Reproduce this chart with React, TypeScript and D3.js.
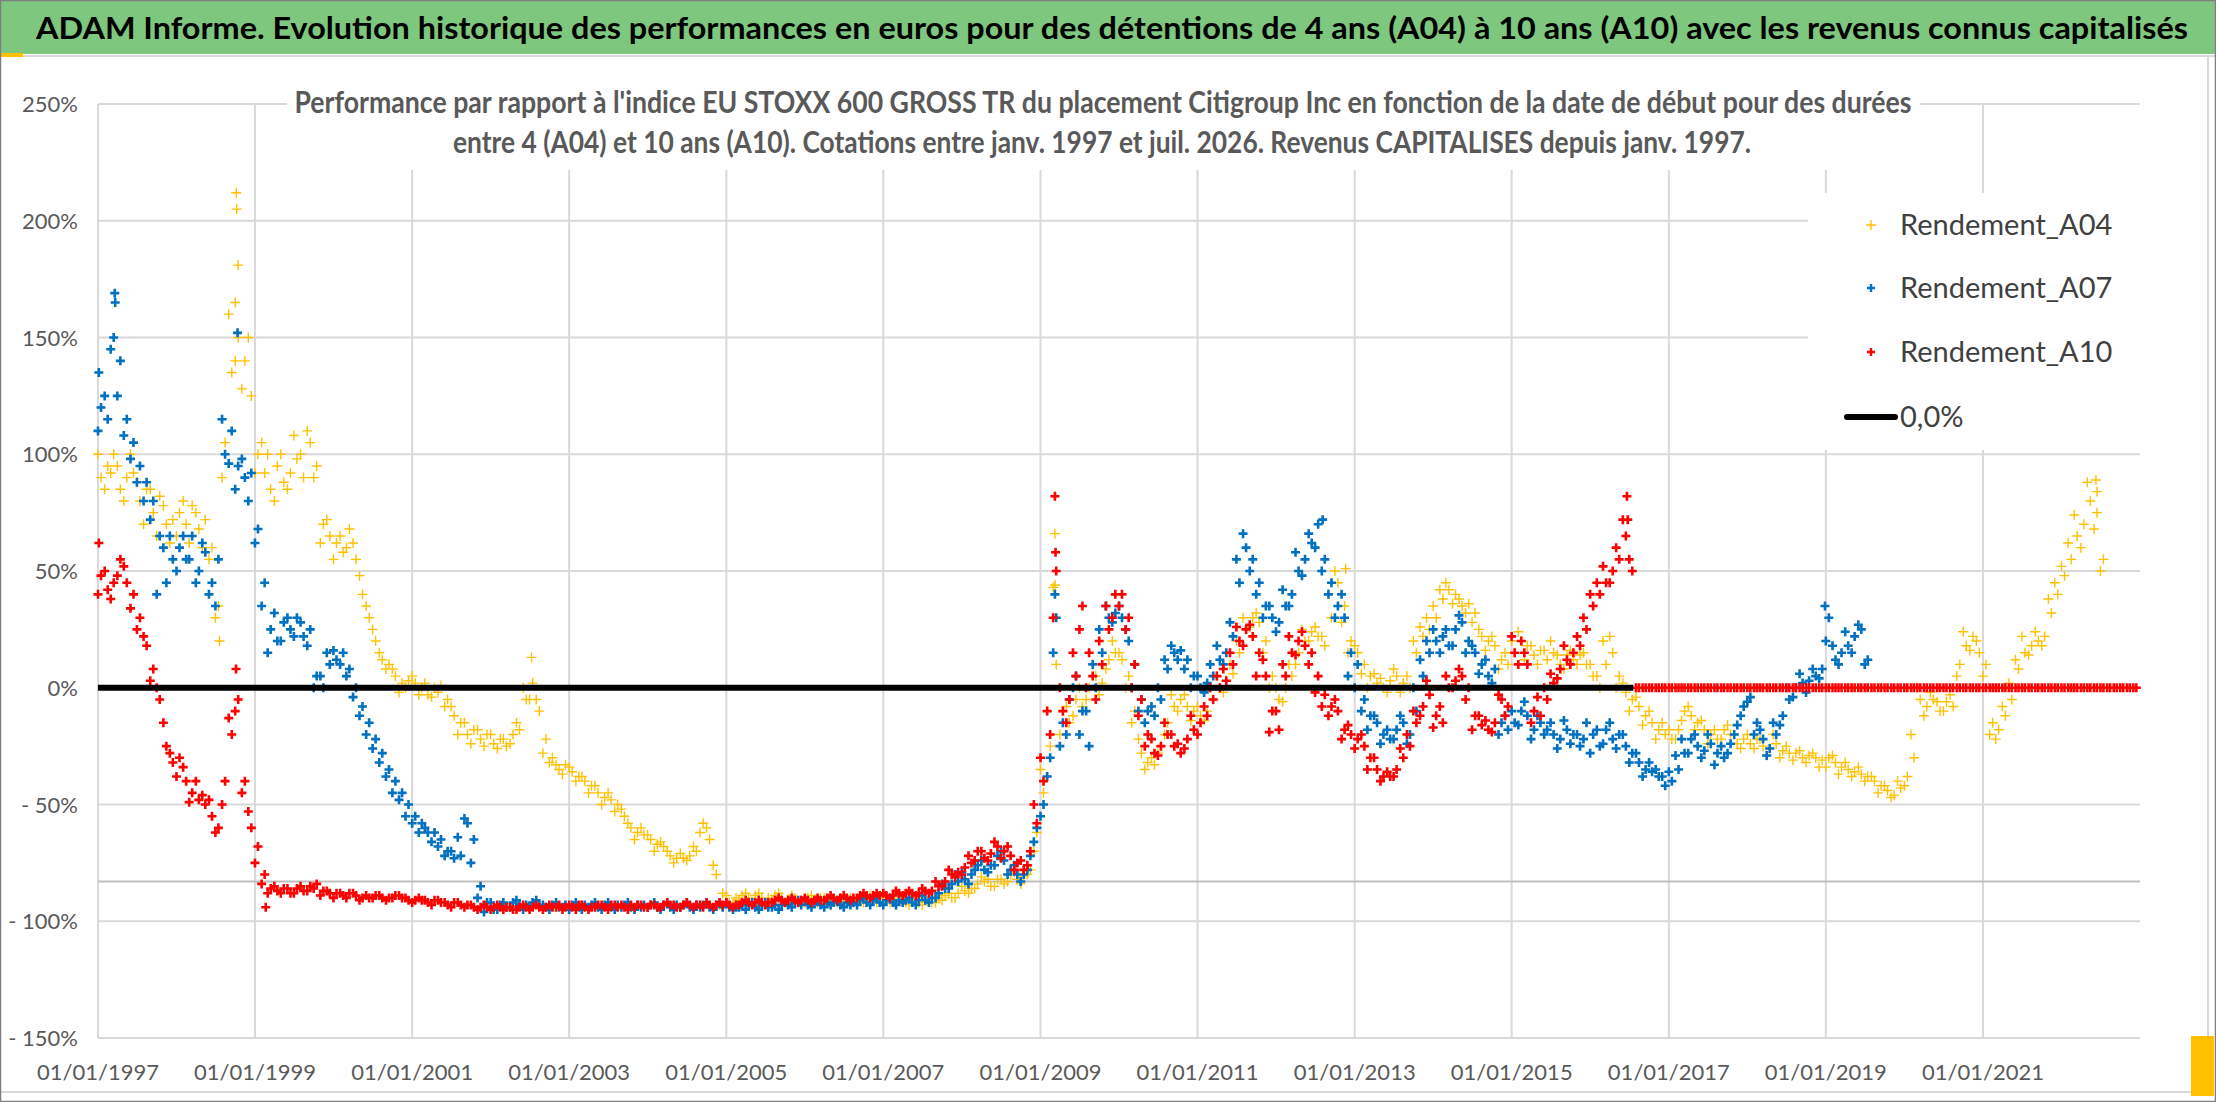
import React from "react";
import * as d3 from "d3";

// ---- data (percent). Two readings per month: one near the 1st, one mid-month ----
const SERIES_START = "1997-01";

// Rendement_A04 : Jan 1997 -> Jul 2022, mid-month readings
const A04: number[] = [
  90, 95, 100, 85, 90, 92, 80, 85, 75, 82, 70, 72, // 1997
  75, 70, 78, 68, 72, 60, 35, 105, 135, 150, 140, 125, // 1998
  100, 92, 85, 95, 88, 92, 98, 90, 105, 95, 70, 65, // 1999
  62, 58, 68, 55, 40, 30, 20, 12, 10, 5, 2, 3, // 2000
  2, 0, -3, 0, 1, -5, -12, -15, -20, -18, -22, -20, // 2001
  -24, -22, -25, -20, -18, -5, 2, -10, -22, -30, -35, -33, // 2002
  -36, -38, -40, -42, -45, -47, -48, -50, -55, -60, -62, -63, // 2003
  -65, -67, -68, -72, -73, -73, -72, -70, -58, -65, -80, -88, // 2004
  -92, -90, -89, -90, -89, -90, -90, -89, -90, -91, -90, -91, // 2005
  -90, -91, -90, -92, -91, -90, -91, -92, -91, -90, -91, -90, // 2006
  -91, -90, -91, -92, -91, -92, -91, -92, -90, -89, -90, -88, // 2007
  -87, -86, -84, -83, -85, -82, -84, -80, -82, -81, -78, -62, // 2008
  -45, -25, 10, -10, -15, -5, -8, 0, 5, 2, 12, 15, // 2009
  12, 5, -10, -28, -32, -33, -25, -15, -8, -5, -8, -10, // 2010
  -12, -10, -5, 0, 3, 6, 15, 25, 30, 28, 20, 5, // 2011
  -5, 0, 5, 15, 20, 24, 22, 18, 30, 45, 35, 20, // 2012
  15, 10, 5, 2, 0, 3, 5, 2, 0, 15, 22, 25, // 2013
  30, 38, 42, 40, 35, 36, 32, 22, 20, 18, 12, 10, // 2014
  15, 20, 18, 14, 16, 12, 15, 10, 14, 12, 14, 10, // 2015
  5, 0, 10, 15, 5, -2, -5, -8, -12, -15, -18, -20, // 2016
  -22, -18, -10, -12, -15, -18, -20, -22, -18, -20, -24, -22, // 2017
  -24, -22, -25, -26, -24, -27, -28, -28, -30, -29, -30, -31, // 2018
  -30, -32, -34, -35, -36, -37, -38, -40, -42, -44, -46, -43, // 2019
  -38, -30, -5, -8, -5, -10, -6, -8, 10, 18, 22, 15, // 2020
  10, -15, -18, -12, -5, 8, 15, 18, 20, 22, 32, 40, // 2021
  48, 55, 65, 70, 80, 75, 55, // 2022
];
// Rendement_A04 : start-of-month readings
const A04_B: number[] = [
  100, 85, 92, 95, 80, 100, 88, 70, 85, 65, 78, 62, // 1997
  65, 80, 62, 75, 60, 55, 30, 90, 160, 140, 128, 150, // 1998
  92, 105, 100, 80, 100, 85, 108, 100, 110, 90, 62, 72, // 1999
  55, 65, 60, 62, 48, 35, 25, 15, 8, 8, -2, 0, // 2000
  5, -3, 2, -4, -2, -8, -8, -20, -15, -24, -18, -25, // 2001
  -20, -26, -22, -24, -15, 0, -5, -5, -28, -32, -33, -37, // 2002
  -34, -40, -38, -45, -42, -50, -45, -53, -52, -58, -65, -60, // 2003
  -63, -70, -66, -70, -75, -71, -74, -68, -62, -60, -76, -93, // 2004
  -89, -92, -91, -88, -92, -88, -92, -91, -88, -92, -89, -92, // 2005
  -92, -89, -92, -90, -93, -92, -89, -90, -93, -92, -89, -92, // 2006
  -89, -92, -93, -90, -93, -90, -93, -90, -92, -91, -88, -90, // 2007
  -85, -88, -86, -81, -82, -85, -82, -83, -79, -84, -80, -70, // 2008
  -35, -10, 43, -20, -8, -12, 0, -5, 10, -3, 8, 20, // 2009
  15, 0, -15, -22, -35, -30, -28, -20, -3, -10, -3, -14, // 2010
  -8, -14, 0, 5, -2, 10, 20, 30, 26, 32, 15, 0, // 2011
  0, -6, 10, 10, 25, 20, 26, 22, 40, 50, 28, 15, // 2012
  18, 6, 0, 6, 4, -2, 8, -2, 5, 20, 26, 30, // 2013
  35, 42, 45, 36, 38, 32, 28, 25, 16, 22, 8, 15, // 2014
  20, 24, 12, 18, 10, 16, 20, 14, 8, 16, 10, 15, // 2015
  10, 5, 20, 22, 0, 2, -10, -4, -16, -10, -22, -15, // 2016
  -18, -22, -14, -8, -18, -14, -24, -18, -22, -16, -20, -26, // 2017
  -20, -26, -22, -29, -20, -30, -25, -31, -27, -32, -28, -34, // 2018
  -34, -29, -37, -32, -38, -34, -40, -38, -45, -42, -47, -40, // 2019
  -42, -20, 0, -12, -2, -6, -10, -3, 5, 24, 16, 20, // 2020
  5, -20, -22, -8, 2, 12, 22, 14, 24, 18, 38, 45, // 2021
  52, 62, 74, 60, 88, 68, 50, // 2022
];

// Rendement_A07 : Jan 1997 -> Jul 2019, mid-month readings
const A07: number[] = [
  120, 115, 150, 140, 115, 105, 95, 88, 80, 65, 45, 55, // 1997
  60, 55, 65, 50, 58, 45, 55, 100, 110, 95, 90, 92, // 1998
  68, 45, 25, 20, 28, 25, 30, 22, 25, 5, 0, 10, // 1999
  12, 15, 8, 0, -8, -15, -22, -28, -35, -40, -45, -50, // 2000
  -55, -58, -62, -62, -65, -70, -73, -72, -58, -65, -85, -92, // 2001
  -95, -93, -94, -92, -93, -93, -92, -93, -94, -93, -94, -93, // 2002
  -93, -94, -93, -93, -94, -93, -94, -93, -93, -94, -93, -93, // 2003
  -93, -94, -93, -94, -93, -93, -94, -93, -93, -94, -93, -94, // 2004
  -94, -94, -93, -93, -94, -93, -94, -93, -93, -93, -92, -93, // 2005
  -93, -92, -93, -92, -92, -93, -92, -92, -91, -92, -91, -92, // 2006
  -91, -92, -91, -91, -92, -91, -91, -90, -88, -86, -84, -83, // 2007
  -82, -80, -76, -78, -76, -72, -74, -78, -80, -80, -72, -60, // 2008
  -50, -30, 30, -15, -5, 5, -10, -25, 0, 15, 30, 32, // 2009
  30, 20, 10, -5, -10, -12, -5, 8, 15, 16, 12, 5, // 2010
  0, 2, 5, 12, 15, 22, 45, 60, 55, 45, 35, 30, // 2011
  28, 35, 40, 50, 55, 62, 70, 55, 45, 35, 30, 15, // 2012
  10, -5, -12, -15, -20, -22, -18, -15, -20, -10, 5, 15, // 2013
  20, 22, 18, 25, 28, 20, 15, 10, 5, 8, -15, -18, // 2014
  -15, -10, -12, -18, -15, -18, -20, -22, -18, -20, -25, -15, // 2015
  -20, -25, -18, -22, -20, -25, -28, -32, -35, -36, -38, -42, // 2016
  -40, -35, -28, -22, -25, -27, -24, -28, -30, -24, -16, -8, // 2017
  -4, -15, -22, -26, -20, -12, -5, 0, 2, 3, 5, 8, // 2018
  30, 12, 15, 18, 22, 25, 12, // 2019
];
// Rendement_A07 : start-of-month readings
const A07_B: number[] = [
  110, 125, 145, 125, 108, 98, 88, 80, 72, 40, 60, 65, // 1997
  50, 65, 55, 45, 62, 40, 35, 115, 96, 85, 98, 80, // 1998
  62, 35, 15, 32, 20, 30, 22, 28, 18, 0, 5, 15, // 1999
  16, 10, 5, -4, -12, -20, -26, -32, -38, -45, -48, -55, // 2000
  -58, -62, -60, -66, -68, -72, -70, -64, -56, -75, -90, -96, // 2001
  -92, -95, -92, -94, -91, -95, -94, -91, -93, -95, -92, -94, // 2002
  -95, -92, -95, -94, -92, -95, -92, -95, -94, -92, -95, -94, // 2003
  -94, -92, -95, -92, -95, -94, -92, -95, -94, -92, -95, -92, // 2004
  -92, -95, -94, -95, -92, -95, -92, -94, -95, -92, -94, -91, // 2005
  -91, -94, -91, -94, -93, -91, -94, -93, -93, -90, -93, -90, // 2006
  -93, -90, -93, -92, -90, -93, -89, -92, -90, -84, -86, -80, // 2007
  -79, -84, -78, -74, -79, -76, -70, -80, -76, -83, -78, -66, // 2008
  -55, -38, 15, -25, -20, 0, -20, -10, 10, 25, 35, 28, // 2009
  35, 25, 0, -10, -15, -8, 0, 12, 18, 12, 8, 0, // 2010
  5, -2, 10, 18, 10, 28, 55, 66, 50, 40, 30, 35, // 2011
  24, 42, 35, 58, 48, 66, 60, 50, 40, 30, 40, 5, // 2012
  0, -10, -18, -12, -24, -18, -22, -12, -24, 0, 12, 20, // 2013
  25, 15, 25, 18, 31, 15, 18, 6, 12, 2, -20, -12, // 2014
  -10, -16, -6, -22, -12, -20, -15, -26, -14, -24, -20, -22, // 2015
  -28, -18, -24, -15, -26, -20, -32, -28, -38, -32, -35, -38, // 2016
  -36, -29, -22, -28, -20, -30, -20, -33, -25, -28, -20, -12, // 2017
  -6, -20, -18, -29, -15, -16, 0, -4, 6, -2, 8, 4, // 2018
  20, 18, 10, 24, 15, 27, 10, // 2019
];

// Rendement_A10 : Jan 1997 -> Dec 2022 (flat 0 once the 10-year window runs out), mid-month
const A10: number[] = [
  48, 42, 45, 55, 45, 40, 30, 18, 8, -5, -25, -32, // 1997
  -30, -40, -45, -48, -50, -55, -60, -40, -20, -5, -40, -60, // 1998
  -68, -80, -86, -87, -86, -88, -86, -87, -85, -84, -87, -88, // 1999
  -88, -89, -88, -89, -90, -90, -89, -90, -90, -89, -90, -91, // 2000
  -91, -91, -92, -91, -92, -93, -92, -93, -93, -94, -94, -94, // 2001
  -94, -94, -94, -95, -94, -94, -94, -94, -94, -94, -93, -94, // 2002
  -94, -93, -94, -94, -93, -94, -93, -94, -94, -93, -93, -94, // 2003
  -93, -94, -93, -93, -94, -93, -93, -93, -94, -93, -93, -93, // 2004
  -93, -93, -92, -92, -92, -92, -92, -91, -91, -91, -91, -91, // 2005
  -91, -91, -91, -90, -90, -90, -90, -90, -89, -89, -89, -89, // 2006
  -89, -89, -88, -88, -88, -88, -87, -87, -85, -83, -80, -79, // 2007
  -77, -75, -70, -73, -71, -68, -70, -72, -75, -78, -70, -58, // 2008
  -40, -20, 50, -10, -5, 5, 35, 15, -5, 10, 25, 40, // 2009
  40, 30, 10, -5, -20, -28, -25, -20, -25, -28, -22, -18, // 2010
  -15, -12, -5, 0, 3, 10, 20, 25, 22, 15, 5, -10, // 2011
  -18, 5, 15, 20, 18, 15, 5, -3, -8, -10, -18, -20, // 2012
  -22, -25, -30, -35, -38, -38, -35, -30, -25, -15, -8, -3, // 2013
  -12, -15, 0, 3, 5, 0, -12, -16, -18, -15, -5, -8, // 2014
  15, 20, 10, -10, -12, -5, 2, 8, 12, 15, 18, 25, // 2015
  35, 40, 45, 50, 55, 65, 50, 0, 0, 0, 0, 0, // 2016
  0, 0, 0, 0, 0, 0, 0, 0, 0, 0, 0, 0, // 2017
  0, 0, 0, 0, 0, 0, 0, 0, 0, 0, 0, 0, // 2018
  0, 0, 0, 0, 0, 0, 0, 0, 0, 0, 0, 0, // 2019
  0, 0, 0, 0, 0, 0, 0, 0, 0, 0, 0, 0, // 2020
  0, 0, 0, 0, 0, 0, 0, 0, 0, 0, 0, 0, // 2021
  0, 0, 0, 0, 0, 0, 0, 0, 0, 0, 0, 0, // 2022
];
// Rendement_A10 : start-of-month readings
const A10_B: number[] = [
  40, 50, 38, 48, 52, 34, 25, 22, 3, 0, -15, -28, // 1997
  -38, -34, -49, -40, -46, -48, -62, -50, -13, -10, -45, -53, // 1998
  -75, -84, -88, -85, -88, -86, -88, -85, -87, -86, -89, -87, // 1999
  -90, -88, -90, -88, -91, -89, -90, -89, -91, -90, -89, -90, // 2000
  -92, -90, -91, -93, -91, -92, -94, -92, -94, -93, -95, -93, // 2001
  -95, -93, -95, -94, -95, -93, -95, -93, -95, -93, -94, -95, // 2002
  -93, -95, -93, -95, -94, -93, -95, -93, -93, -95, -94, -93, // 2003
  -94, -93, -94, -92, -93, -94, -92, -94, -93, -92, -94, -92, // 2004
  -92, -94, -93, -91, -93, -91, -93, -92, -90, -92, -90, -92, // 2005
  -90, -92, -90, -91, -89, -91, -89, -91, -90, -88, -90, -88, // 2006
  -88, -90, -87, -89, -87, -89, -86, -88, -83, -85, -78, -81, // 2007
  -80, -72, -74, -70, -74, -66, -73, -68, -78, -74, -76, -50, // 2008
  -30, -10, 30, 0, -15, 15, 25, 0, 5, 20, 35, 30, // 2009
  35, 25, 0, -12, -25, -22, -29, -15, -20, -24, -26, -12, // 2010
  -20, -8, 0, 5, 8, 15, 26, 18, 27, 5, 12, -19, // 2011
  -10, 10, 22, 14, 24, 10, -2, -8, -12, -5, -22, -16, // 2012
  -26, -20, -35, -30, -40, -36, -38, -26, -20, -10, -12, 3, // 2013
  -17, -8, 5, 0, 8, -5, -18, -12, -14, -19, -3, -12, // 2014
  22, 10, 15, -15, -4, 0, 6, 4, 18, 10, 22, 30, // 2015
  40, 45, 52, 45, 60, 72, 55, 0, 0, 0, 0, 0, // 2016
  0, 0, 0, 0, 0, 0, 0, 0, 0, 0, 0, 0, // 2017
  0, 0, 0, 0, 0, 0, 0, 0, 0, 0, 0, 0, // 2018
  0, 0, 0, 0, 0, 0, 0, 0, 0, 0, 0, 0, // 2019
  0, 0, 0, 0, 0, 0, 0, 0, 0, 0, 0, 0, // 2020
  0, 0, 0, 0, 0, 0, 0, 0, 0, 0, 0, 0, // 2021
  0, 0, 0, 0, 0, 0, 0, 0, 0, 0, 0, 0, // 2022
];

// isolated readings that stand out of the clouds
const A04_EXTRA: [string, number][] = [
  ["1998-10-06", 212], ["1998-10-08", 205], ["1998-10-14", 181], ["1998-10-01", 165],
  ["1998-07-20", 20], ["2002-07-10", 13], ["2009-03-09", 66], ["2009-03-10", 44],
  ["2012-11-20", 51], ["2022-06-10", 89], ["2022-06-15", 84],
];
const A07_EXTRA: [string, number][] = [
  ["1997-01-05", 135], ["1997-03-20", 169], ["1997-03-22", 165], ["1998-10-12", 152],
  ["2009-03-09", 40], ["2012-08-05", 72], ["2018-12-28", 35],
];
const A10_EXTRA: [string, number][] = [
  ["1997-01-05", 62], ["1998-10-05", 8], ["1999-02-20", -94], ["2009-03-09", 82],
  ["2009-03-12", 58], ["2016-06-20", 82], ["2016-06-24", 72],
];

// the black 0,0% series
const ZERO_DATES = ["1997-01-01", "2016-07-20"];
const ZERO_VALUES = [0, 0];

const REF_LINE = -83;

const Y_TICKS = [250, 200, 150, 100, 50, 0, -50, -100, -150];
const X_TICKS = [
  "01/01/1997", "01/01/1999", "01/01/2001", "01/01/2003", "01/01/2005",
  "01/01/2007", "01/01/2009", "01/01/2011", "01/01/2013", "01/01/2015",
  "01/01/2017", "01/01/2019", "01/01/2021",
];
const X_DOMAIN = ["1997-01-01", "2023-01-01"];

const TITLE =
  "ADAM Informe. Evolution historique des performances en euros pour des détentions de 4 ans (A04) à 10 ans (A10) avec les revenus connus capitalisés";
const SUBTITLE = [
  "Performance par rapport à l'indice EU STOXX 600 GROSS TR  du placement Citigroup Inc en fonction de la date de début pour des durées",
  "entre 4 (A04) et 10 ans (A10). Cotations entre janv. 1997 et juil. 2026. Revenus CAPITALISES depuis janv. 1997.",
];

const LEGEND = ["Rendement_A04", "Rendement_A07", "Rendement_A10", "0,0%"];
const COLORS = { A04: "#FFC000", A07: "#0070C0", A10: "#FF0000" };

const FONT = "Lato, 'Open Sans', sans-serif";
const W = 2216;
const H = 1102;

const parseIso = d3.timeParse("%Y-%m-%d");
const parseFr = d3.timeParse("%d/%m/%Y");

// date of each index of the monthly arrays, at a given day of the month
function monthDates(n: number, day: number) {
  const start = d3.timeParse("%Y-%m")(SERIES_START)!;
  return d3.range(n).map(i => d3.timeDay.offset(d3.timeMonth.offset(start, i), day));
}

function plusPath(pts: [number, number][], s: number) {
  return pts.map(([cx, cy]) => `M${cx - s},${cy}h${2 * s}M${cx},${cy - s}v${2 * s}`).join("");
}

const App: React.FC = () => {
  const x = d3
    .scaleTime()
    .domain(X_DOMAIN.map(d => parseIso(d)!))
    .range([98, 2140]);
  const y = d3.scaleLinear().domain([-150, 250]).range([1038, 104]);

  const pts = (mid: number[], first: number[], extra: [string, number][]) => {
    const dMid = monthDates(mid.length, 14);
    const dFirst = monthDates(first.length, 0);
    const p: [number, number][] = [];
    first.forEach((v, i) => p.push([x(dFirst[i]), y(v)]));
    mid.forEach((v, i) => p.push([x(dMid[i]), y(v)]));
    extra.forEach(([d, v]) => p.push([x(parseIso(d)!), y(v)]));
    return p;
  };

  const zeroLine = d3
    .line<number>()
    .x((_, i) => x(parseIso(ZERO_DATES[i])!))
    .y(v => y(v))(ZERO_VALUES)!;

  const xTicks = X_TICKS.map(t => ({ label: t, x: x(parseFr(t)!) }));
  const [x0, x1] = x.range();

  const legendY = [225, 288, 352, 417];

  return (
    <svg
      width={W}
      height={H}
      style={{ position: "absolute", left: 0, top: 0, background: "#fff" }}
      fontFamily={FONT}
    >
      {/* title band */}
      <rect x={0} y={0} width={W} height={54} fill="#7EC77E" />
      <rect x={0} y={53} width={23} height={4} fill="#FFC000" />
      <line x1={23} x2={W} y1={56} y2={56} stroke="#D9D9D9" strokeWidth={2} />
      <text
        x={36}
        y={39}
        fontSize={31}
        fontWeight="bold"
        fill="#000"
        textLength={2152}
        lengthAdjust="spacingAndGlyphs"
      >
        {TITLE}
      </text>

      {/* grid */}
      <g stroke="#D9D9D9" strokeWidth={2}>
        {Y_TICKS.map(t => (
          <line key={t} x1={x0} x2={x1} y1={y(t)} y2={y(t)} />
        ))}
        {xTicks.map(t => (
          <line key={t.label} x1={t.x} x2={t.x} y1={y(250)} y2={y(-150)} />
        ))}
      </g>
      <line x1={x0} x2={x1} y1={y(REF_LINE)} y2={y(REF_LINE)} stroke="#BFBFBF" strokeWidth={2} />

      {/* subtitle and legend backgrounds hide the grid */}
      <rect x={287} y={84} width={1633} height={86} fill="#fff" />
      <rect x={1808} y={193} width={334} height={257} fill="#fff" />

      <g fontSize={30} fontWeight="bold" fill="#595959" textAnchor="middle">
        <text x={1103} y={113} textLength={1617} lengthAdjust="spacingAndGlyphs">
          {SUBTITLE[0]}
        </text>
        <text x={1102} y={153} textLength={1298} lengthAdjust="spacingAndGlyphs">
          {SUBTITLE[1]}
        </text>
      </g>

      {/* axes labels */}
      <g fontSize={22} fill="#595959" textAnchor="end">
        {Y_TICKS.map(t => (
          <text key={t} x={78} y={y(t) + 8}>
            {t < 0 ? `- ${-t}%` : `${t}%`}
          </text>
        ))}
      </g>
      <g fontSize={22} fill="#595959" textAnchor="middle">
        {xTicks.map(t => (
          <text key={t.label} x={t.x} y={1080}>
            {t.label}
          </text>
        ))}
      </g>

      {/* series */}
      <path d={plusPath(pts(A04, A04_B, A04_EXTRA), 5)} stroke={COLORS.A04} strokeWidth={1.4} fill="none" />
      <path d={plusPath(pts(A07, A07_B, A07_EXTRA), 4.5)} stroke={COLORS.A07} strokeWidth={2.6} fill="none" />
      <path d={plusPath(pts(A10, A10_B, A10_EXTRA), 4.5)} stroke={COLORS.A10} strokeWidth={2.6} fill="none" />
      <path d={zeroLine} stroke="#000" strokeWidth={6} fill="none" />

      {/* legend */}
      <path d={plusPath([[1871, legendY[0]]], 5)} stroke={COLORS.A04} strokeWidth={1.4} />
      <path d={plusPath([[1871, legendY[1]]], 4)} stroke={COLORS.A07} strokeWidth={2.4} />
      <path d={plusPath([[1871, legendY[2]]], 4)} stroke={COLORS.A10} strokeWidth={2.4} />
      <line x1={1847} x2={1895} y1={legendY[3]} y2={legendY[3]} stroke="#000" strokeWidth={6} strokeLinecap="round" />
      <g fontSize={29} fill="#404040">
        {LEGEND.map((l, i) => (
          <text key={l} x={1900} y={legendY[i] + 10}>
            {l}
          </text>
        ))}
      </g>

      {/* frame */}
      <line x1={2208} x2={2208} y1={57} y2={1092} stroke="#D9D9D9" strokeWidth={2} />
      <line x1={0} x2={2208} y1={1092} y2={1092} stroke="#D9D9D9" strokeWidth={2} />
      <rect x={2191} y={1036} width={23} height={60} fill="#FFC000" />
      <rect x={0.5} y={0.5} width={W - 1} height={H - 1} fill="none" stroke="#7F7F7F" strokeWidth={1.5} />
    </svg>
  );
};

export default App;
